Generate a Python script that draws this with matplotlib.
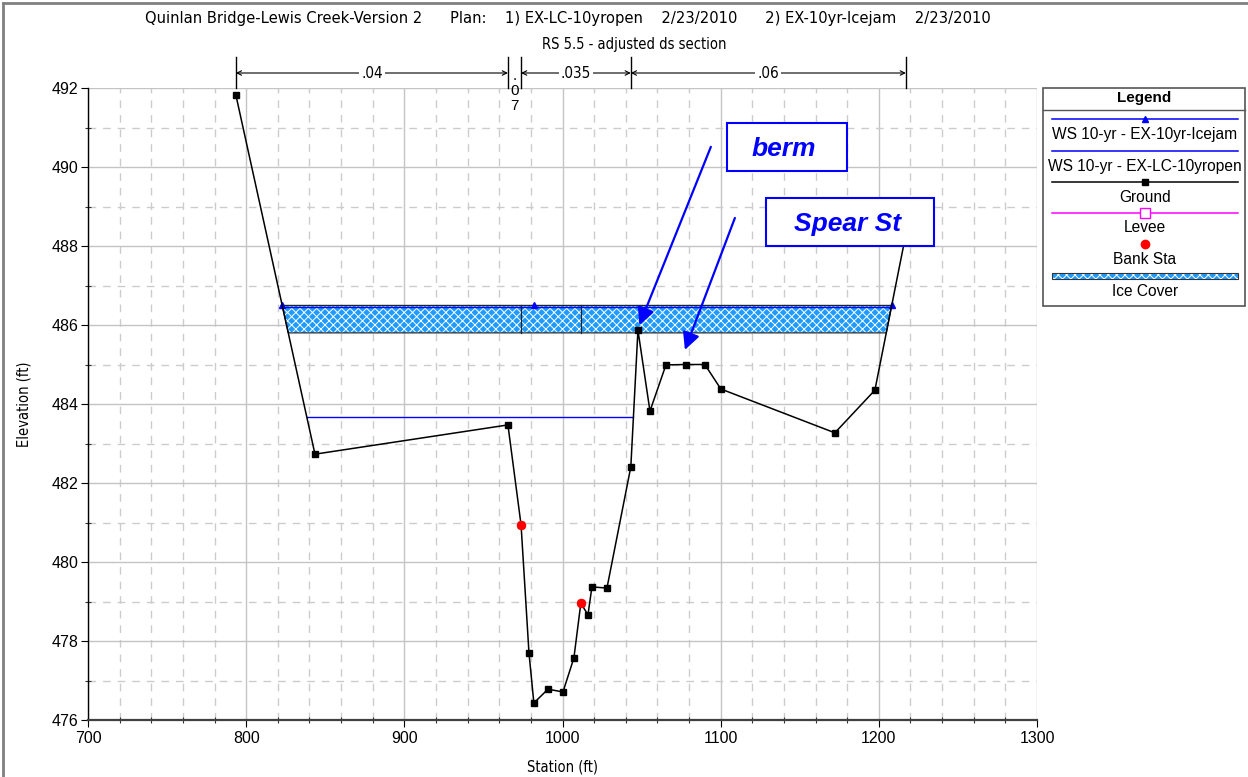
import numpy as np
import matplotlib
matplotlib.use("Agg")
import matplotlib.pyplot as plt
from matplotlib.patches import Rectangle
from matplotlib.ticker import MultipleLocator

plt.rcParams["hatch.linewidth"] = 0.7

# ---- cross-section data -------------------------------------------------
ground_sta = [793.5, 843.5, 965.5, 973.8, 978.8, 981.9, 990.8, 1000.3, 1007.2,
              1011.6, 1016.1, 1018.6, 1028.1, 1043.2, 1047.7, 1055.3, 1065.4,
              1078.0, 1090.0, 1100.1, 1172.2, 1197.5, 1217.1]
ground_elev = [491.82, 482.73, 483.47, 480.94, 477.70, 476.43, 476.78, 476.71,
               477.57, 478.96, 478.66, 479.37, 479.34, 482.41, 485.87, 483.82,
               484.99, 485.00, 485.00, 484.38, 483.27, 484.35, 488.30]
bank_sta = [973.8, 1011.6]
ws_icejam = 486.51
ws_open = 483.67
ice_thickness = 0.71
n_breaks = [793.5, 965.5, 973.8, 1043.2, 1217.1]
n_values = [".04", ".07", ".035", ".06"]
x_ticks = [700, 800, 900, 1000, 1100, 1200, 1300]
y_ticks = [476, 478, 480, 482, 484, 486, 488, 490, 492]

title = ("Quinlan Bridge-Lewis Creek-Version 2      Plan:    1) EX-LC-10yropen    "
         "2/23/2010      2) EX-10yr-Icejam    2/23/2010")
subtitle = "RS 5.5 - adjusted ds section"

# note boxes (station, elevation)
berm_box = (1103.9, 489.90, 75.9, 1.21)
berm_arrow = ((1093.8, 490.51), (1048.6, 486.0))
spear_box = (1128.9, 488.0, 106.2, 1.22)
spear_arrow = ((1109.0, 488.71), (1077.4, 485.37))

gs = np.array(ground_sta)
ge = np.array(ground_elev)

arial = ["Liberation Sans", "DejaVu Sans"]
narrow = dict(family=["DejaVu Sans"], fontstretch="condensed")

W, H = 1248, 777
fig = plt.figure(figsize=(W / 100, H / 100), dpi=100)
fig.patch.set_facecolor("white")

L, R, T, B = 88, 1037, 88, 720
ax = fig.add_axes([L / W, 1 - B / H, (R - L) / W, (B - T) / H])
ax.set_xlim(700, 1300)
ax.set_ylim(476, 492)
ax.set_xticks(x_ticks)
ax.set_yticks(y_ticks)
ax.xaxis.set_minor_locator(MultipleLocator(20))
ax.yaxis.set_minor_locator(MultipleLocator(1))
ax.grid(which="major", color="#c4c4c4", lw=1.0, ls="-")
ax.grid(which="minor", color="#cccccc", lw=1.0, ls=(0, (5.5, 5)))
ax.set_axisbelow(True)
for s in ("top", "right"):
    ax.spines[s].set_visible(False)
ax.spines["left"].set_color("black")
ax.spines["left"].set_linewidth(1.0)
ax.spines["bottom"].set_color("#404040")
ax.spines["bottom"].set_linewidth(1.6)
ax.tick_params(which="major", direction="out", length=5, width=0.8,
               labelsize=11.5, colors="black")
ax.tick_params(which="minor", direction="inout", length=5, width=0.8,
               colors="#333333")
ax.tick_params(axis="x", which="major", pad=3)
ax.tick_params(axis="y", which="major", pad=2)
for lab in ax.get_xticklabels() + ax.get_yticklabels():
    lab.set_family(arial)

ax.set_xlabel("Station (ft)", fontsize=10.5, labelpad=10, **narrow)
ax.set_ylabel("Elevation (ft)", fontsize=10.5, labelpad=14, **narrow)


def crossings(ws):
    """Stations where a water surface meets the ground either side of the thalweg."""
    i0 = int(np.argmin(ge))
    i = i0
    while i > 0 and ge[i - 1] < ws:
        i -= 1
    xl = np.interp(ws, [ge[i], ge[i - 1]], [gs[i], gs[i - 1]])
    j = i0
    while j < len(gs) - 1 and ge[j + 1] < ws:
        j += 1
    xr = np.interp(ws, [ge[j], ge[j + 1]], [gs[j], gs[j + 1]])
    return xl, xr


# ---- ice cover --------------------------------------------------------
il, ir = crossings(ws_icejam)
xs = np.linspace(il, ir, 1500)
gnd = np.interp(xs, gs, ge)
ice_bot = np.maximum(gnd, ws_icejam - ice_thickness)
ax.fill_between(xs, ice_bot, ws_icejam, facecolor="#1f9bff", edgecolor="white",
                hatch="xxxx", lw=0, zorder=2)
ax.plot(xs, ice_bot, color="#333333", lw=0.9, zorder=3)
ax.plot([il, ir], [ws_icejam, ws_icejam], color="#222222", lw=0.9, zorder=3)
for b in bank_sta:
    gb = np.interp(b, gs, ge)
    ax.plot([b, b], [max(gb, ws_icejam - ice_thickness), ws_icejam],
            color="#222222", lw=0.9, zorder=3)

# ---- water surfaces ----------------------------------------------------
ax.plot([il, ir], [ws_icejam - 0.05, ws_icejam - 0.05], color="#0000ff",
        lw=1.0, zorder=4)
ax.plot([il, gs[np.argmin(ge)], ir], [ws_icejam] * 3, ls="none", marker="^",
        color="#0000ff", ms=5, zorder=5)
ol, orr = crossings(ws_open)
ax.plot([ol, orr], [ws_open, ws_open], color="#0000ff", lw=1.0, zorder=4)

# ---- ground and bank stations -----------------------------------------
ax.plot(gs, ge, color="black", lw=1.1, marker="s", ms=4.2, zorder=6)
ax.plot(bank_sta, np.interp(bank_sta, gs, ge), ls="none", marker="o",
        color="#ff0000", ms=5.8, zorder=7)

# ---- Manning's n bar above the plot ------------------------------------
tr = ax.get_xaxis_transform()
yb = (B - 73) / (B - T)
ytop = (B - 57) / (B - T)
for x in n_breaks:
    ax.plot([x, x], [1.0, ytop], transform=tr, color="black", lw=1.0,
            clip_on=False)
for k, lab in enumerate(n_values):
    x0, x1 = n_breaks[k], n_breaks[k + 1]
    if x1 - x0 > 20:
        ax.annotate("", xy=(x1, yb), xytext=(x0, yb), xycoords=tr,
                    textcoords=tr,
                    arrowprops=dict(arrowstyle="<->", lw=0.8, color="black",
                                    shrinkA=0, shrinkB=0, mutation_scale=8))
        ax.text((x0 + x1) / 2, yb, lab, transform=tr, ha="center",
                va="center", fontsize=11,
                bbox=dict(facecolor="white", edgecolor="none", pad=1.5),
                clip_on=False, **narrow)
    else:
        ax.text((x0 + x1) / 2, (B - 91) / (B - T), "\n".join(lab),
                transform=tr, ha="center", va="center", fontsize=11,
                family=arial, linespacing=1.05, clip_on=False)

# ---- notes ---------------------------------------------------------------
for box, txt in ((berm_box, "berm"), (spear_box, "Spear St")):
    x, y, w, h = box
    ax.add_patch(Rectangle((x, y), w, h, facecolor="white", edgecolor="#0000ff",
                           lw=1.5, zorder=8))
    ax.text(x + w / 2 - 2, y + h / 2 - 0.05, txt, color="#0000ff",
            fontsize=19, fontweight="bold", style="italic", family=arial,
            ha="center", va="center", zorder=9)
for (p0, p1) in (berm_arrow, spear_arrow):
    ax.annotate("", xy=p1, xytext=p0,
                arrowprops=dict(arrowstyle="-|>", color="#0000ff", lw=1.6,
                                mutation_scale=26, shrinkA=0, shrinkB=0),
                zorder=9)

# ---- figure-level text, border and legend --------------------------------
ov = fig.add_axes([0, 0, 1, 1])
ov.set_xlim(0, W)
ov.set_ylim(H, 0)
ov.axis("off")
ov.patch.set_alpha(0)

ov.plot([3, 3], [3, H + 5], color="#808080", lw=2)
ov.plot([3, W + 5], [3, 3], color="#808080", lw=2)
ov.text(568, 19, title, ha="center", va="center", fontsize=11.8, **narrow)
ov.text(634, 44, subtitle, ha="center", va="center", fontsize=10.5, **narrow)

# legend box
lx0, lx1, ly0, ly1 = 1043, 1245, 88, 306
ov.add_patch(Rectangle((lx0, ly0), lx1 - lx0, ly1 - ly0, facecolor="white",
                       edgecolor="#555555", lw=1.2))
ov.plot([lx0, lx1], [110, 110], color="#555555", lw=1.0)
ov.text((lx0 + lx1) / 2, 98, "Legend", ha="center", va="center", fontsize=11,
        fontweight="bold", family=arial)
sx0, sx1 = 1052, 1238
cx = (sx0 + sx1) / 2
entries = [
    (119, "WS 10-yr - EX-10yr-Icejam", dict(color="#0000ff", marker="^", ms=5)),
    (151, "WS 10-yr - EX-LC-10yropen", dict(color="#0000ff")),
    (182, "Ground", dict(color="black", marker="s", ms=5)),
    (213, "Levee", dict(color="#ff00ff", marker="s", ms=7, mfc="white")),
]
for y, lab, st in entries:
    mk = st.pop("marker", None)
    ms = st.pop("ms", None)
    mfc = st.pop("mfc", None)
    ov.plot([sx0, sx1], [y, y], lw=1.1, **st)
    if mk:
        ov.plot([cx], [y], marker=mk, ms=ms, ls="none", color=st["color"],
                mfc=mfc if mfc else st["color"])
    ov.text(cx, y + 15, lab, ha="center", va="center", fontsize=11.2,
            family=arial)
ov.plot([cx], [244], marker="o", ms=6, color="#ff0000", ls="none")
ov.text(cx, 260, "Bank Sta", ha="center", va="center", fontsize=11.2,
        family=arial)
ov.add_patch(Rectangle((sx0, 273), sx1 - sx0, 6, facecolor="#1f9bff",
                       edgecolor="white", hatch="xxxx", lw=0))
ov.add_patch(Rectangle((sx0, 273), sx1 - sx0, 6, facecolor="none",
                       edgecolor="#333333", lw=0.8))
ov.text(cx, 291, "Ice Cover", ha="center", va="center", fontsize=11.2,
        family=arial)

fig.savefig("out.png", dpi=100)
